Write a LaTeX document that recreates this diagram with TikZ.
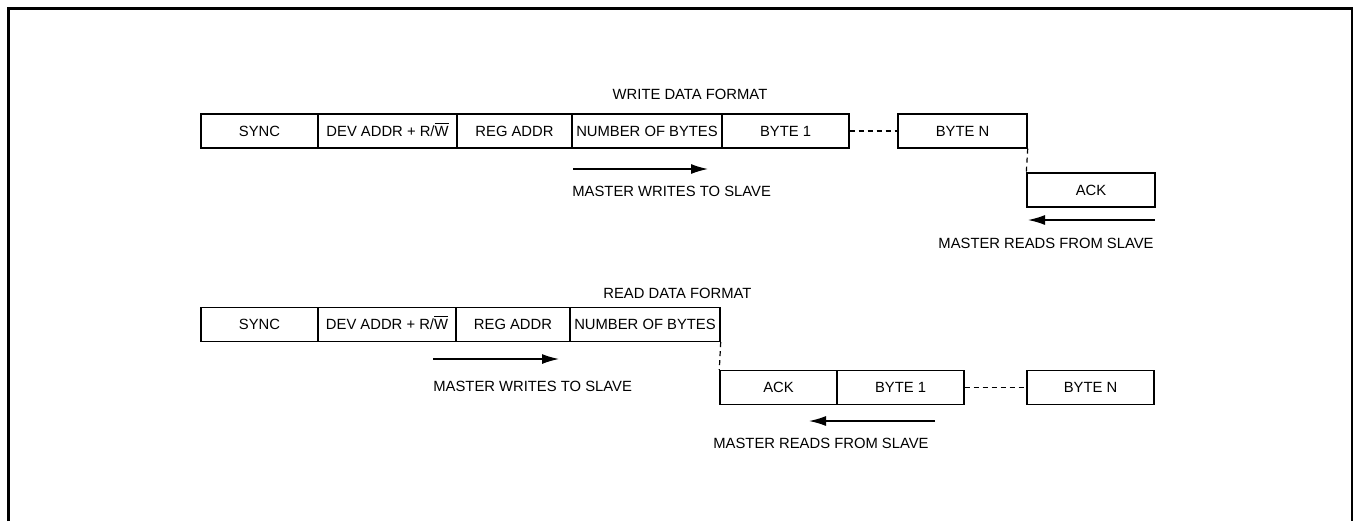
\documentclass[tikz,border=0pt]{standalone}
\usepackage{fontspec}
\setmainfont{Liberation Sans}
\usetikzlibrary{arrows.meta}
\begin{document}
\begin{tikzpicture}[x=0.5pt,y=-0.5pt,
  every node/.style={font=\fontsize{7.4}{9}\selectfont},
  cell/.style={draw, line width=0.7pt, minimum height=17pt, inner sep=0pt, text height=5.3pt, text depth=0pt},
  lbl/.style={inner sep=0pt, text height=5.3pt, text depth=0pt},
  dashln/.style={line width=0.6pt, dash pattern=on 2.5pt off 2pt},
  dirarrow/.style={line width=0.7pt, -{Latex[length=8.5pt,width=5pt]}},
  frame/.style={line width=1.1pt}]
\useasboundingbox (0,0) rectangle (1353,521);
\draw[frame] (8.5,521) -- (8.5,8.5) -- (1352,8.5) -- (1352,521);

% WRITE DATA FORMAT
\node[lbl] (wtitle) at (690,94) {WRITE DATA FORMAT};
\node[cell, minimum width=58.5pt] (sync1) at (259.5,131) {SYNC};
\node[cell, minimum width=69.5pt] (dev1) at (387.5,131) {DEV ADDR + R/$\overline{\mbox{W}}$};
\node[cell, minimum width=57.5pt] (reg1) at (514.5,131) {REG ADDR};
\node[cell, minimum width=75pt] (num1) at (647,131) {NUMBER OF BYTES};
\node[cell, minimum width=63.5pt] (b11) at (785.5,131) {BYTE 1};
\node[cell, minimum width=64.5pt] (bn1) at (962.5,131) {BYTE N};
\node[cell, minimum width=64pt] (ack1) at (1091,190) {ACK};
\draw[dashln] (b11.east) -- (bn1.west);
\draw[dashln] (bn1.south east) -- (ack1.north west);

\coordinate (w1s) at (573,169);
\coordinate (w1e) at (708,169);
\draw[dirarrow] (w1s) -- (w1e);
\node[lbl, anchor=west] (w1t) at (572,191.5) {MASTER WRITES TO SLAVE};

\coordinate (r1s) at (1155,220);
\coordinate (r1e) at (1028,220);
\draw[dirarrow] (r1s) -- (r1e);
\node[lbl, anchor=east] (r1t) at (1154,243.5) {MASTER READS FROM SLAVE};

% READ DATA FORMAT
\node[lbl, anchor=west] (rtitle) at (603,293) {READ DATA FORMAT};
\node[cell, minimum width=58.5pt] (sync2) at (259.5,324.5) {SYNC};
\node[cell, minimum width=69pt] (dev2) at (387,324.5) {DEV ADDR + R/$\overline{\mbox{W}}$};
\node[cell, minimum width=57pt] (reg2) at (513,324.5) {REG ADDR};
\node[cell, minimum width=75pt] (num2) at (645,324.5) {NUMBER OF BYTES};
\node[cell, minimum width=58.5pt] (ack2) at (778.5,387.5) {ACK};
\node[cell, minimum width=63.5pt] (b12) at (900.5,387.5) {BYTE 1};
\node[cell, minimum width=63.5pt] (bn2) at (1090.5,387.5) {BYTE N};
\draw[dashln] (num2.south east) -- (ack2.north west);
\draw[dashln] (b12.east) -- (bn2.west);

\coordinate (w2s) at (433,359);
\coordinate (w2e) at (559,359);
\draw[dirarrow] (w2s) -- (w2e);
\node[lbl, anchor=west] (w2t) at (433,386) {MASTER WRITES TO SLAVE};

\coordinate (r2s) at (935,421);
\coordinate (r2e) at (809,421);
\draw[dirarrow] (r2s) -- (r2e);
\node[lbl, anchor=west] (r2t) at (713,443.5) {MASTER READS FROM SLAVE};
\end{tikzpicture}
\end{document}
